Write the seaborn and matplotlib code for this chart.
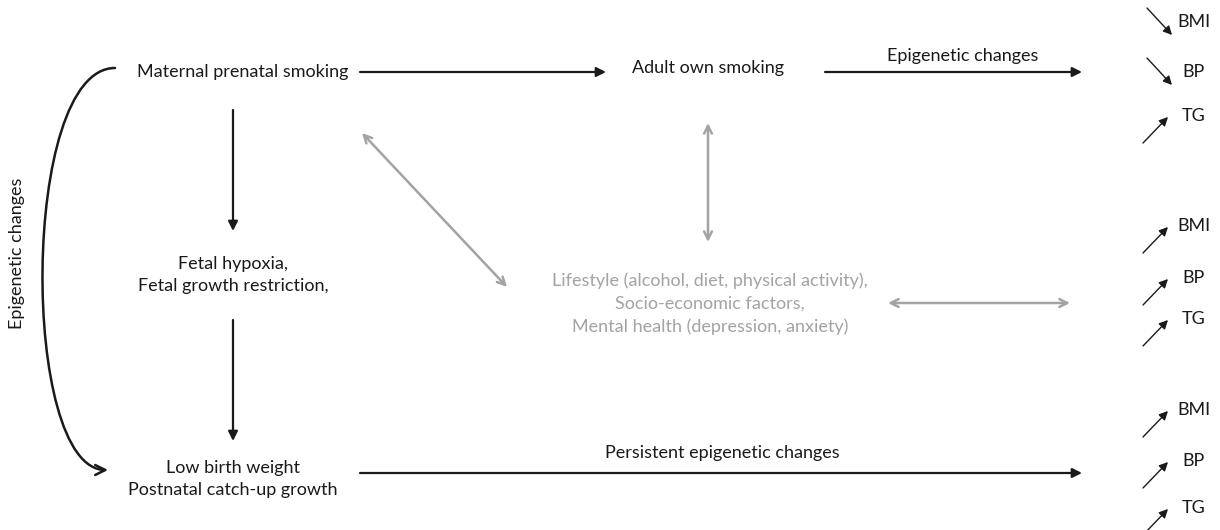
import matplotlib
matplotlib.use("Agg")
import matplotlib.pyplot as plt
import seaborn as sns
from matplotlib.path import Path
from matplotlib.patches import FancyArrowPatch

sns.set_theme(style="white")
plt.rcParams['font.family'] = ['Lato', 'DejaVu Sans']

# ---- content ----
main_nodes = ["Maternal prenatal smoking", "Adult own smoking",
              "Fetal hypoxia,\nFetal growth restriction,",
              "Low birth weight\nPostnatal catch-up growth"]
confounder_text = ("Lifestyle (alcohol, diet, physical activity),\n"
                   "Socio-economic factors,\n"
                   "Mental health (depression, anxiety)")
edge_labels = ["Epigenetic changes", "Persistent epigenetic changes", "Epigenetic changes"]
outcomes = ["BMI", "BP", "TG"]
group_directions = [["down", "down", "up"],
                    ["up", "up", "up"],
                    ["up", "up", "up"]]

BLACK = "#1a1a1a"
GRAY = "#a3a3a3"
FS = 13

fig = plt.figure(figsize=(12.2, 5.3), dpi=100)
ax = fig.add_axes([0, 0, 1, 1])
ax.set_xlim(0, 1220)
ax.set_ylim(530, 0)
ax.axis("off")

def txt(x, y, s, color=BLACK, **kw):
    ax.text(x, y, s, ha="center", va="center", fontsize=FS, color=color,
            linespacing=1.5, **kw)

def arrow(p0, p1, color=BLACK, style="-|>", lw=1.6, ms=14, conn="arc3"):
    ax.annotate("", xy=p1, xytext=p0,
                arrowprops=dict(arrowstyle=style, color=color, lw=lw,
                                mutation_scale=ms, shrinkA=0, shrinkB=0,
                                connectionstyle=conn))

# main nodes
txt(243, 72, main_nodes[0])
txt(708, 68, main_nodes[1])
txt(233, 275, main_nodes[2])
txt(233, 479, main_nodes[3])
txt(710, 304, confounder_text, color=GRAY)

# black arrows
arrow((360, 72), (606, 72))
arrow((825, 72), (1082, 72))
txt(963, 56, edge_labels[0])
arrow((233, 110), (233, 231))
arrow((233, 320), (233, 441))
arrow((360, 473), (1082, 473))
txt(722, 453, edge_labels[1])

# curved arrow on the left
curve = Path([(115, 68), (20, 68), (20, 470), (108, 470)],
             [Path.MOVETO, Path.CURVE4, Path.CURVE4, Path.CURVE4])
ax.add_patch(FancyArrowPatch(path=curve, arrowstyle="->", color=BLACK,
                             lw=1.8, mutation_scale=18))
ax.text(17, 253, edge_labels[2], rotation=90, ha="center", va="center",
        fontsize=FS, color=BLACK)

# gray double arrows
arrow((362, 133), (507, 287), color=GRAY, style="<->", lw=1.8, ms=14)
arrow((708, 123), (708, 242), color=GRAY, style="<->", lw=1.8, ms=14)
arrow((888, 303), (1070, 303), color=GRAY, style="<->", lw=1.8, ms=14)

# outcomes groups
group_label_y = [[22, 72, 116], [226, 278, 319], [410, 461, 508]]
for gi, dirs in enumerate(group_directions):
    for oi, (name, d) in enumerate(zip(outcomes, dirs)):
        y = group_label_y[gi][oi]
        txt(1194, y, name)
        if d == "down":
            arrow((1147, y - 14), (1172, y + 13), lw=1.0, ms=13)
        else:
            arrow((1143, y + 27), (1168, y + 1), lw=1.0, ms=13)

fig.savefig("out.png", dpi=100, facecolor="white")
